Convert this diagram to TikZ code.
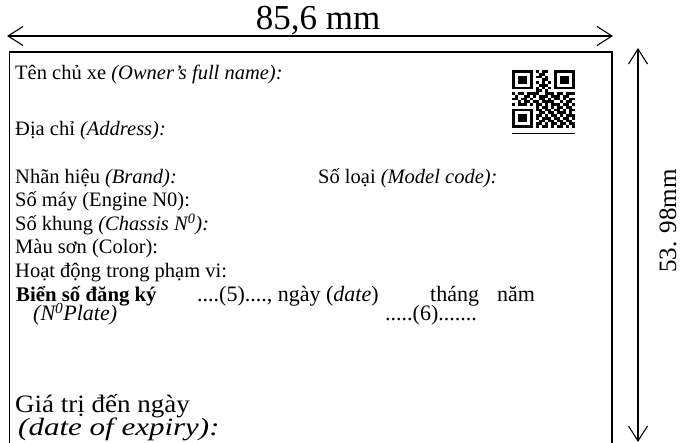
\documentclass[tikz,border=0pt]{standalone}
\usepackage{fontspec}
\usepackage{graphicx}
\setmainfont{Liberation Serif}
\usetikzlibrary{arrows.meta}
\newcount\myqrx
\newcount\myqry
\newcommand\myqrrow[2]{\myqry=#1\relax\myqrx=0\relax\myqrparse#2\relax}
\def\myqrparse#1{\ifx#1\relax\else
  \ifnum#1=1 \fill (512+\the\myqrx*3,-70-\the\myqry*2.76) rectangle ++(3,-2.76);\fi
  \advance\myqrx by 1\relax
  \expandafter\myqrparse\fi}
\begin{document}
\begin{tikzpicture}[x=1pt,y=1pt,
  lbl/.style={anchor=base west,inner sep=0pt,font=\fontsize{20.5}{24}\selectfont},
  dimline/.style={line width=1.1pt,{Straight Barb[length=15pt,width=19pt,line width=1.1pt]}-{Straight Barb[length=15pt,width=19pt,line width=1.1pt]}},
  card/.style={line width=1.2pt}]
\useasboundingbox (0,0) rectangle (683,-443);
\begin{scope}
\clip (0,0) rectangle (683,-443);
\draw[card] (9.5,-52) rectangle (612,-460);
\end{scope}
% dimension lines
\coordinate (wl) at (7,-36);
\coordinate (wr) at (613,-36);
\coordinate (ht) at (638,-48);
\coordinate (hb) at (638,-442);
\draw[dimline] (wl) -- (wr);
\draw[dimline] (ht) -- (hb);
\node[anchor=base,inner sep=0pt,font=\fontsize{35}{38}\selectfont] (wlab) at (318,-30) {85,6 mm};
\node[rotate=90,inner sep=0pt,text height=16pt,text depth=0pt,font=\fontsize{25}{30}\selectfont] (hlab) at (668,-221) {53. 98mm};
% QR code
\myqrrow{0}{111111101011001111111}
\myqrrow{1}{100000100110001000001}
\myqrrow{2}{101110101101001011101}
\myqrrow{3}{101110100011001011101}
\myqrrow{4}{101110101010101011101}
\myqrrow{5}{100000100111001000001}
\myqrrow{6}{111111101010101111111}
\myqrrow{7}{000000001101000000000}
\myqrrow{8}{101101111001110110111}
\myqrrow{9}{010011010111011101100}
\myqrrow{10}{110110100110101101011}
\myqrrow{11}{001011011011110010110}
\myqrrow{12}{101110101101011101101}
\myqrrow{13}{000000001011010110110}
\myqrrow{14}{111111101101101101011}
\myqrrow{15}{100000100110110111010}
\myqrrow{16}{101110101101011010111}
\myqrrow{17}{101110101011101101101}
\myqrrow{18}{101110100110110110110}
\myqrrow{19}{100000101101011011011}
\myqrrow{20}{111111101011010110101}
\coordinate (qa) at (512,-133);
\coordinate (qb) at (575,-133);
\draw[line width=0.8pt] (qa) -- (qb);
% texts
\node[lbl] (owner) at (15,-80) {Tên chủ xe \textit{(Owner’s full name):}};
\node[lbl] (addr) at (15,-136) {Địa chỉ \textit{(Address):}};
\node[lbl] (brand) at (15,-184) {Nhãn hiệu \textit{(Brand):}};
\node[lbl] (model) at (318,-184) {Số loại \textit{(Model code):}};
\node[lbl] (engine) at (15,-207) {Số máy (Engine N0):};
\node[lbl] (chassis) at (15,-231) {Số khung \textit{(Chassis N\textsuperscript{0}):}};
\node[lbl] (color) at (15,-254) {Màu sơn (Color):};
\node[lbl] (range) at (15,-278) {Hoạt động trong phạm vi:};
\node[lbl,font=\fontsize{20.8}{24}\selectfont\bfseries] (plate) at (16,-302) {Biển số đăng ký};
\node[lbl,font=\fontsize{22}{25}\selectfont] (five) at (197,-302) {....(5)...., ngày (\textit{date})};
\node[lbl,font=\fontsize{22}{25}\selectfont] (month) at (430,-302) {tháng};
\node[lbl,font=\fontsize{22}{25}\selectfont] (year) at (497,-302) {năm};
\node[lbl,font=\fontsize{22}{26}\selectfont\itshape] (plateen) at (33,-321) {(N\textsuperscript{0}Plate)};
\node[lbl,font=\fontsize{22}{25}\selectfont] (six) at (385,-321) {.....(6).......};
\node[lbl,font=\fontsize{25}{30}\selectfont] (valid) at (15,-413) {\scalebox{1.08}[1]{Giá trị đến ngày}};
\node[lbl,font=\fontsize{25}{30}\selectfont\itshape] (expiry) at (18,-436) {\scalebox{1.24}[1]{(date of expiry):}};
\end{tikzpicture}
\end{document}
